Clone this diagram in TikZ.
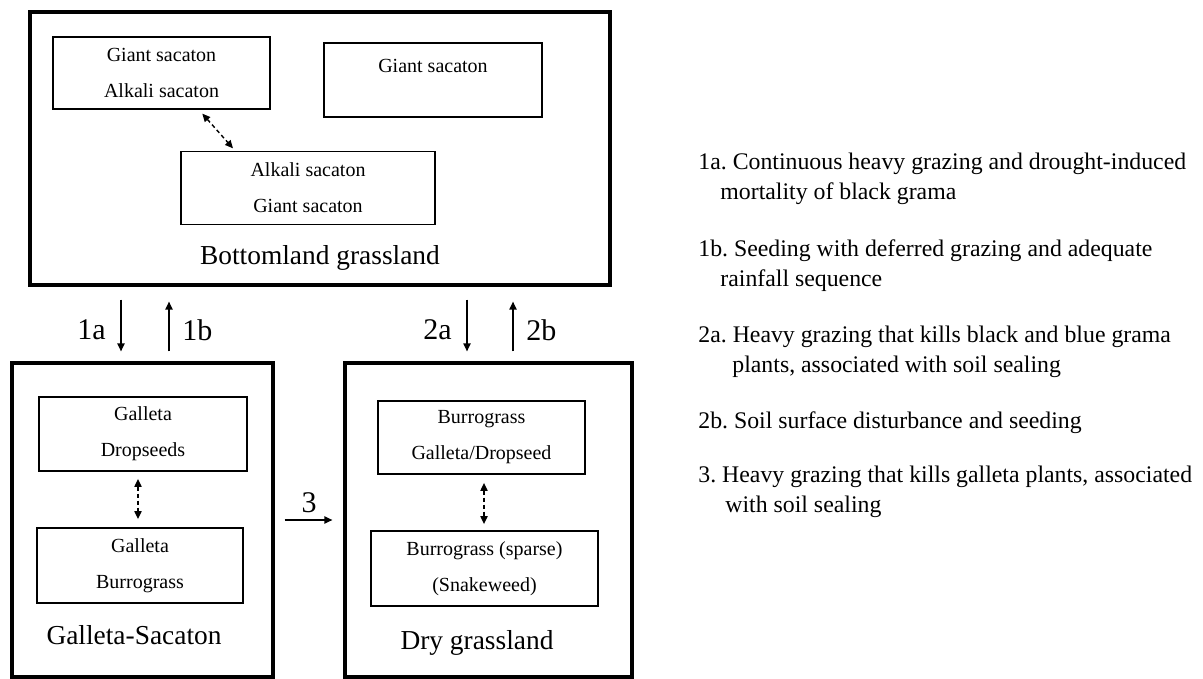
\documentclass[tikz,border=0pt]{standalone}
\usepackage{fontspec}
\setmainfont{Liberation Serif}
\usetikzlibrary{arrows.meta}
\frenchspacing

\tikzset{
 statebox/.style={draw, line width=1.6pt, inner sep=0pt},
 plantbox/.style={draw, line width=0.9pt, align=center, inner sep=0pt,
   font=\fontsize{10}{18}\selectfont},
 statename/.style={font=\fontsize{13.7}{16}\selectfont},
 trans/.style={line width=0.7pt, -{Triangle[length=4pt,width=3.6pt]}},
 toggle/.style={line width=0.7pt, dash pattern=on 2pt off 1.5pt,
   {Triangle[length=4pt,width=3.6pt]}-{Triangle[length=4pt,width=3.6pt]}},
 translabel/.style={font=\fontsize{15}{18}\selectfont},
 notetext/.style={anchor=north west, align=left, inner sep=0pt,
   font=\fontsize{11.9}{15}\selectfont}
}

\begin{document}
\begin{tikzpicture}[x=0.5pt, y=-0.5pt]
%\draw[help lines] (0,0) grid[step=50] (1203,679);
\useasboundingbox (0,0) rectangle (1203,679);

% bottomland grassland
\node[statebox, minimum width=290pt, minimum height=136.5pt] (bottom) at (320,148.5) {};
\node[plantbox, minimum width=108.5pt, minimum height=36pt] (giantalk) at (161.5,73) {Giant sacaton\\Alkali sacaton};
\node[plantbox, minimum width=109pt, minimum height=37pt, text depth=14pt] (giant) at (433,80) {Giant sacaton};
\node[plantbox, minimum width=127pt, minimum height=36.5pt] (alkgiant) at (308,188) {Alkali sacaton\\Giant sacaton};
\node[statename] (bottomname) at (320,258) {Bottomland grassland};
\draw[toggle, shorten <=2.5pt, shorten >=1.5pt] ([xshift=18.75pt]giantalk.south) -- ([xshift=-36.5pt]alkgiant.north);

% galleta-sacaton
\node[statebox, minimum width=130.5pt, minimum height=157pt] (galsac) at (142.5,520) {};
\node[plantbox, minimum width=104pt, minimum height=37pt] (galdrop) at (143,434) {Galleta\\Dropseeds};
\node[plantbox, minimum width=103pt, minimum height=37.5pt] (galburro) at (140,565.5) {Galleta\\Burrograss};
\node[statename] (galsacname) at (134,635) {Galleta-Sacaton};
\draw[toggle, shorten <=3.5pt, shorten >=4pt] ([xshift=-2.5pt]galdrop.south) -- ([xshift=-1pt]galburro.north);

% dry grassland
\node[statebox, minimum width=143.5pt, minimum height=157pt] (dry) at (488.5,520) {};
\node[plantbox, minimum width=103.5pt, minimum height=36.5pt] (burrogal) at (481.5,437.5) {Burrograss\\Galleta/Dropseed};
\node[plantbox, minimum width=113.5pt, minimum height=37.5pt] (sparse) at (484.5,568.5) {Burrograss (sparse)\\(Snakeweed)};
\node[statename] (dryname) at (477,643) {Dry grassland};
\draw[toggle, shorten <=4pt, shorten >=3pt] ([xshift=1.25pt]burrogal.south) -- ([xshift=-0.25pt]sparse.north);

% transitions
\draw[trans, shorten <=6.5pt, shorten >=5pt] ([xshift=-99.5pt]bottom.south) -- node[translabel, left=4pt, pos=0.58] {1a} ([xshift=-10.75pt]galsac.north);
\draw[trans, shorten <=5pt, shorten >=7.5pt] ([xshift=13.25pt]galsac.north) -- node[translabel, right=3pt, pos=0.42] {1b} ([xshift=-75.5pt]bottom.south);
\draw[trans, shorten <=6.5pt, shorten >=5pt] ([xshift=73.5pt]bottom.south) -- node[translabel, left=4pt, pos=0.58] {2a} ([xshift=-10.75pt]dry.north);
\draw[trans, shorten <=5pt, shorten >=7.5pt] ([xshift=12.25pt]dry.north) -- node[translabel, right=3pt, pos=0.42] {2b} ([xshift=96.5pt]bottom.south);
\draw[trans, shorten <=5pt, shorten >=5.5pt] (galsac.east) -- node[translabel, above] {3} (dry.west);

% key
\node[notetext] (note1a) at (698,153) {1a. Continuous heavy grazing and drought-induced\\\hspace*{11pt}mortality of black grama};
\node[notetext] (note1b) at (698,239) {1b. Seeding with deferred grazing and adequate\\\hspace*{11pt}rainfall sequence};
\node[notetext] (note2a) at (698,326) {2a. Heavy grazing that kills black and blue grama\\\hspace*{17pt}plants, associated with soil sealing};
\node[notetext] (note2b) at (698,411) {2b. Soil surface disturbance and seeding};
\node[notetext] (note3) at (698,466) {3. Heavy grazing that kills galleta plants, associated\\\hspace*{13.5pt}with soil sealing};

\end{tikzpicture}
\end{document}
